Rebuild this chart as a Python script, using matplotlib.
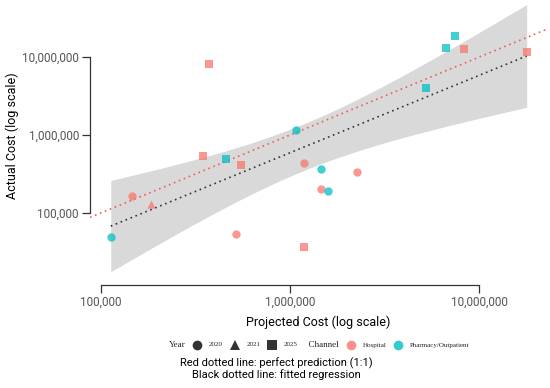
import numpy as np
import matplotlib
matplotlib.use('Agg')
import matplotlib.pyplot as plt
from matplotlib.lines import Line2D
from matplotlib.offsetbox import TextArea, DrawingArea, HPacker, AnchoredOffsetbox
from matplotlib.ticker import FixedLocator, FuncFormatter

plt.rcParams['font.family'] = ['Roboto', 'DejaVu Sans']

# projected vs actual cost per product
projected = [373000, 346000, 457000, 553000, 7450000, 6700000, 8340000, 17800000, 5220000, 1190000,
             146000, 113000, 520000, 1070000, 1180000, 1460000, 2260000, 1460000, 1580000,
             184000]
actual = [8060000, 538000, 492000, 408000, 18600000, 12900000, 12800000, 11700000, 4000000, 36600,
          165000, 48900, 54300, 1150000, 437000, 363000, 338000, 203000, 192000,
          129000]
year = [2025] * 10 + [2020] * 9 + [2021]
channel = ['Hospital', 'Hospital', 'Pharmacy/Outpatient', 'Hospital', 'Pharmacy/Outpatient',
           'Pharmacy/Outpatient', 'Hospital', 'Hospital', 'Pharmacy/Outpatient', 'Hospital',
           'Hospital', 'Pharmacy/Outpatient', 'Hospital', 'Pharmacy/Outpatient', 'Hospital',
           'Pharmacy/Outpatient', 'Hospital', 'Hospital', 'Pharmacy/Outpatient',
           'Hospital']

years = [2020, 2021, 2025]
channels = ['Hospital', 'Pharmacy/Outpatient']
shapes = {2020: 'o', 2021: '^', 2025: 's'}
colors = {'Hospital': '#F8766D', 'Pharmacy/Outpatient': '#00BFC4'}

fig = plt.figure(figsize=(5.5, 3.88), dpi=100)
ax = fig.add_axes([90 / 550, 103 / 388, 457 / 550, 285 / 388])
ax.set_xscale('log')
ax.set_yscale('log')

# regression on log10 scale with 95% CI
lx = np.log10(projected)
ly = np.log10(actual)
n = len(lx)
b, a = np.polyfit(lx, ly, 1)
res = ly - (a + b * lx)
s = np.sqrt(np.sum(res ** 2) / (n - 2))
sxx = np.sum((lx - lx.mean()) ** 2)
gx = np.linspace(lx.min(), lx.max(), 200)
gy = a + b * gx
se = s * np.sqrt(1 / n + (gx - lx.mean()) ** 2 / sxx)
t = 2.101  # t(0.975, df=18)
ax.fill_between(10 ** gx, 10 ** (gy - t * se), 10 ** (gy + t * se), color='#D9D9D9', lw=0, zorder=1)

xl = (10 ** 4.9435, 10 ** 7.3577)
ax.plot(xl, xl, color='#F25C5C', ls=(0, (1, 2.2)), lw=1.2, zorder=2)
ax.plot(10 ** gx, 10 ** gy, color='#333333', ls=(0, (1, 2.2)), lw=1.2, zorder=3)

for px, py, yr, ch in zip(projected, actual, year, channel):
    ax.scatter(px, py, marker=shapes[yr], s=36, color=colors[ch], alpha=0.75, lw=0, zorder=4)

ax.set_xlim(*xl)
ax.set_ylim(10 ** 4.077, 10 ** 7.731)

for side in ['top', 'right']:
    ax.spines[side].set_visible(False)
for side in ['left', 'bottom']:
    ax.spines[side].set_color('#333333')
    ax.spines[side].set_linewidth(0.9)
ax.spines['left'].set_bounds(1e5, 1e7)
ax.spines['bottom'].set_bounds(1e5, 1e7)
ax.xaxis.set_major_locator(FixedLocator([1e5, 1e6, 1e7]))
ax.yaxis.set_major_locator(FixedLocator([1e5, 1e6, 1e7]))
ax.xaxis.set_minor_locator(FixedLocator([]))
ax.yaxis.set_minor_locator(FixedLocator([]))
fmt = FuncFormatter(lambda v, p: f'{v:,.0f}')
ax.xaxis.set_major_formatter(fmt)
ax.yaxis.set_major_formatter(fmt)
ax.tick_params(length=6, width=0.9, color='#333333', labelcolor='#555555', labelsize=8.5, pad=2)

fig.text(318 / 550, 1 - 322 / 388, 'Projected Cost (log scale)', ha='center', va='center', fontsize=9)
fig.text(12 / 550, 1 - 136 / 388, 'Actual Cost (log scale)', ha='center', va='center',
         rotation=90, fontsize=9)

# legend row
def key(marker, color):
    da = DrawingArea(8, 8, 0, 0)
    da.add_artist(Line2D([4], [4], marker=marker, ms=7, color=color, mew=0,
                         alpha=0.8 if color != '#333333' else 1))
    return da

lf = dict(fontsize=5, family='Liberation Serif', color='#222222')
tf = dict(fontsize=6.5, family='Liberation Serif', color='#222222')
items = [TextArea('Year', textprops=tf)]
for yr in years:
    items += [key(shapes[yr], '#333333'), TextArea(str(yr), textprops=lf)]
items.append(TextArea('  Channel', textprops=tf))
for ch in channels:
    items += [key('o', colors[ch]), TextArea(ch, textprops=lf)]
box = HPacker(children=items, align='center', pad=0, sep=4.5)
ab = AnchoredOffsetbox(loc='center', child=box, frameon=False,
                       bbox_to_anchor=(319 / 550, 1 - 345 / 388), bbox_transform=fig.transFigure)
fig.add_artist(ab)

fig.text(276 / 550, 1 - 369 / 388, 'Red dotted line: perfect prediction (1:1)\nBlack dotted line: fitted regression',
         ha='center', va='center', fontsize=8, linespacing=1.05)

fig.savefig('out.png', dpi=100)
